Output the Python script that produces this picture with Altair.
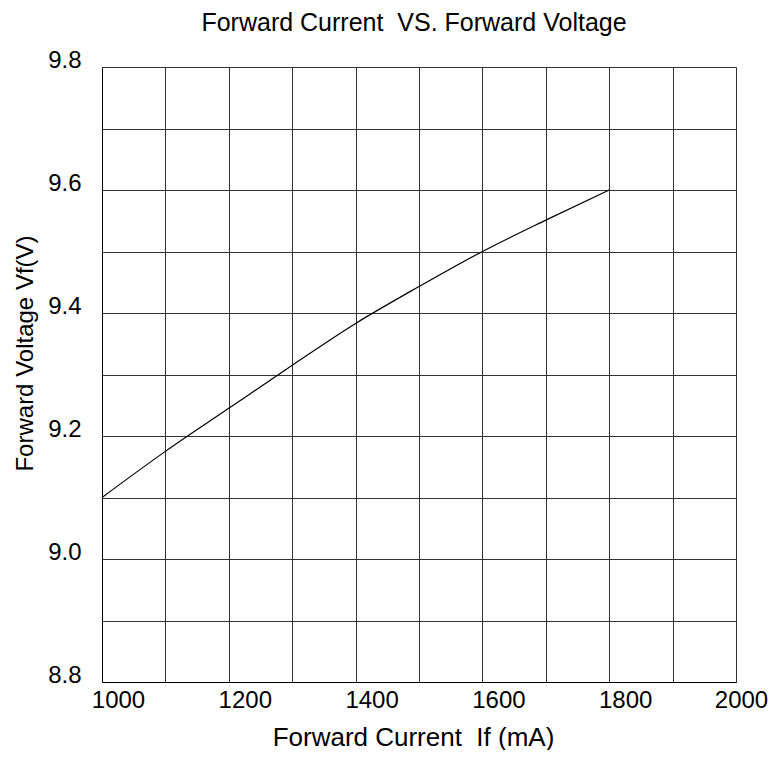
import altair as alt
import pandas as pd

# Data
current_ma = [1000, 1100, 1200, 1300, 1400, 1500, 1600, 1700, 1800]
voltage_v = [9.100, 9.175, 9.245, 9.315, 9.383, 9.443, 9.500, 9.551, 9.600]

x_ticks = [1000, 1100, 1200, 1300, 1400, 1500, 1600, 1700, 1800, 1900, 2000]
y_ticks = [8.8, 8.9, 9.0, 9.1, 9.2, 9.3, 9.4, 9.5, 9.6, 9.7, 9.8]

df = pd.DataFrame({"If": current_ma, "Vf": voltage_v})

FONT = "Liberation Sans"

chart = (
    alt.Chart(df)
    .mark_line(color="black", strokeWidth=1.2, interpolate="monotone")
    .encode(
        x=alt.X(
            "If:Q",
            scale=alt.Scale(domain=[1000, 2000], nice=False, zero=False),
            axis=alt.Axis(
                values=x_ticks,
                format="d",
                labelExpr="datum.value % 200 == 0 ? datum.label : ''",
                title="Forward Current\u00a0 If (mA)",
                grid=True,
                gridColor="#333333",
                gridWidth=1,
                ticks=False,
                domain=True,
                domainColor="black",
                labelFlush=False,
                labelOverlap=False,
                labelFont=FONT,
                labelFontSize=24,
                labelColor="black",
                labelPadding=6,
                labelOffset=alt.expr("datum.value == 2000 ? 5 : 16"),
                titleFont=FONT,
                titleFontSize=26,
                titleFontWeight="normal",
                titleColor="black",
                titleBaseline="alphabetic",
                titleX=311,
                titleY=63,
            ),
        ),
        y=alt.Y(
            "Vf:Q",
            scale=alt.Scale(domain=[8.8, 9.8], nice=False, zero=False),
            axis=alt.Axis(
                values=y_ticks,
                format=".1f",
                labelExpr="round(datum.value * 10) % 2 == 0 ? datum.label : ''",
                title="Forward Voltage Vf(V)",
                grid=True,
                gridColor="#333333",
                gridWidth=1,
                ticks=False,
                domain=True,
                domainColor="black",
                labelFlush=False,
                labelOverlap=False,
                labelFont=FONT,
                labelFontSize=24,
                labelColor="black",
                labelPadding=21,
                labelBaseline="alphabetic",
                titleFont=FONT,
                titleFontSize=24,
                titleFontWeight="normal",
                titleColor="black",
                titleBaseline="alphabetic",
                titleAngle=270,
                titleX=-70,
                titleY=286,
            ),
        ),
    )
    .properties(
        width=634,
        height=615,
        autosize=alt.AutoSizeParams(type="none"),
        padding={"left": 94, "top": 59, "right": 32, "bottom": 68},
        title=alt.TitleParams(
            text="Forward Current\u00a0 VS. Forward Voltage",
            font=FONT,
            fontSize=25,
            fontWeight="normal",
            color="black",
            anchor="middle",
            frame="group",
            baseline="alphabetic",
            offset=-8,
            dx=-5,
        ),
    )
    .configure_view(stroke="black", strokeWidth=1)
    .configure(background="white")
)

chart.save("out.html", embed_options={"renderer": "svg", "actions": False})
